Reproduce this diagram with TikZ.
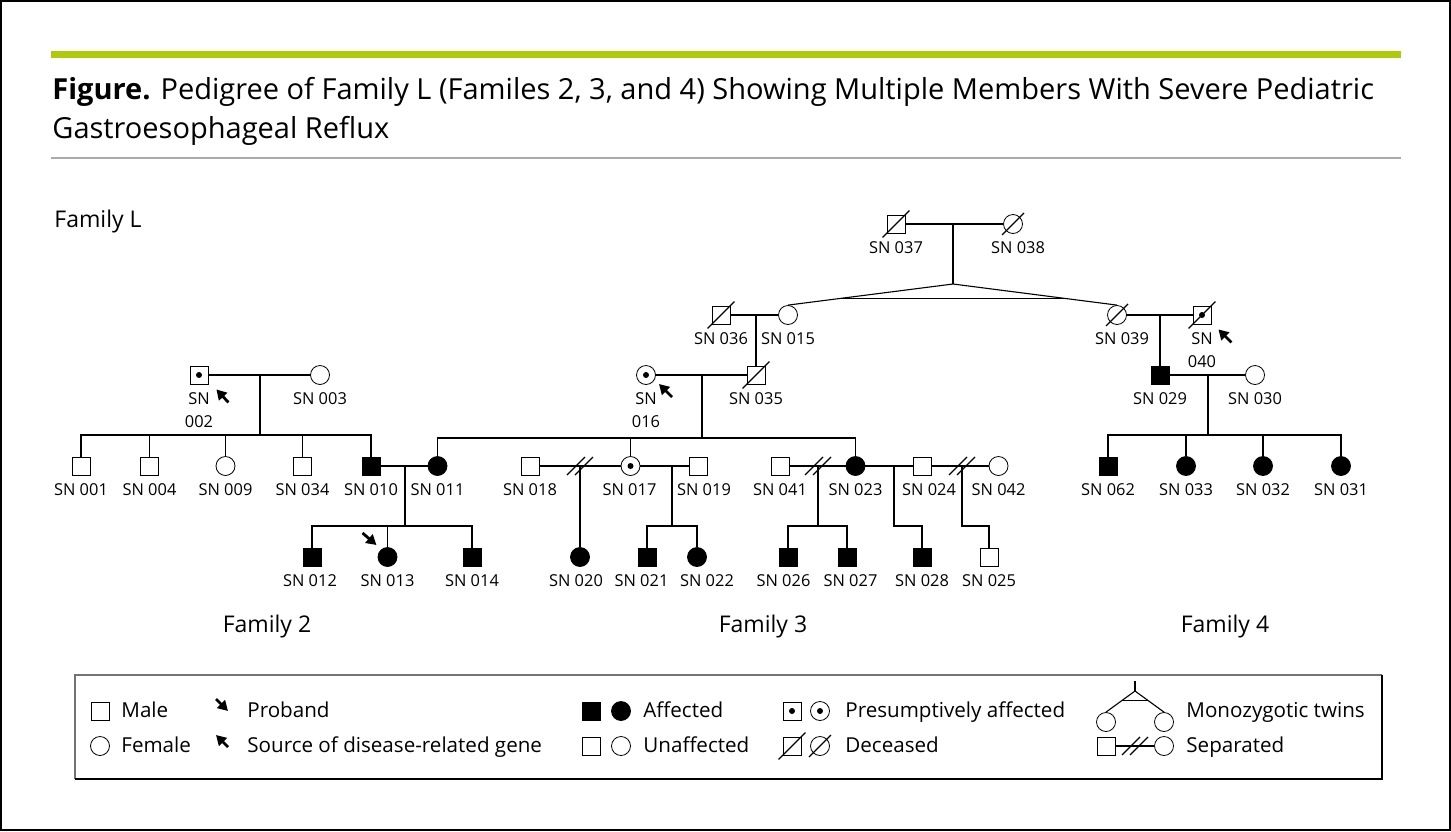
\documentclass[tikz,border=0pt]{standalone}
\usepackage{fontspec}
\setmainfont{Open Sans}
\usetikzlibrary{arrows.meta, calc}
\definecolor{green50}{RGB}{175, 202, 11}
\definecolor{rule50}{RGB}{170, 170, 170}
\tikzset{
  male/.style={rectangle, draw, minimum size=9pt, inner sep=0pt}, % square symbol
  female/.style={circle, draw, minimum size=9.5pt, inner sep=0pt}, % circle symbol
  affected/.style={fill=black},
  presumed/.style={path picture={\fill (path picture bounding box.center) circle (1.5pt);}},
  lbl/.style={font=\fontsize{8.2}{11.5}\selectfont, inner sep=1pt, align=center},
  label distance=2.75pt,
  famlbl/.style={font=\fontsize{11.5}{14}\selectfont, anchor=base, inner sep=0pt},
  legtxt/.style={font=\fontsize{10.3}{12}\selectfont, anchor=base west, inner sep=0pt},
  pointer/.style={-{Triangle[length=5pt,width=5.5pt]}, line width=1.4pt},
  line/.style={draw, line width=0.55pt}
}
\newcommand{\deceased}[1]{\draw[line] ([shift={(-4,4)}]#1.south west) -- ([shift={(4,-4)}]#1.north east);}
\newcommand{\separated}[1]{%
  \draw[line] ([shift={(-13,9)}]#1) -- ([shift={(5,-9)}]#1);
  \draw[line] ([shift={(-5,9)}]#1) -- ([shift={(13,-9)}]#1);}

\begin{document}
\begin{tikzpicture}[x=0.5pt, y=-0.5pt]

  \useasboundingbox (0,0) rectangle (1451,831);
  \draw[line width=1pt] (1,1) rectangle (1450,830);

  % Header
  \fill[green50] (51,51) rectangle (1401,58);
  \node[anchor=base west, inner sep=0pt, font=\fontsize{14.5}{18}\selectfont] (title1) at (52,99)
    {\textbf{Figure.} Pedigree of Family L (Familes 2, 3, and 4) Showing Multiple Members With Severe Pediatric};
  \node[anchor=base west, inner sep=0pt, font=\fontsize{14.5}{18}\selectfont] (title2) at (52,138)
    {Gastroesophageal Reflux};
  \draw[rule50, line width=0.8pt] (51,158) -- (1401,158);

  \node[famlbl, anchor=base west] (famL) at (54,227) {Family L};

  % Generation I
  \node[male, label={[lbl]below:SN 037}] (sn037) at (896,224) {};
  \node[female, label={[lbl, xshift=2.5pt]below:SN 038}] (sn038) at (1013,224) {};
  \deceased{sn037}
  \deceased{sn038}
  \coordinate (m037) at (953,224);
  \coordinate (twin) at (953,284);

  % Generation II
  \node[male, label={[lbl]below:SN 036}] (sn036) at (721,315) {};
  \node[female, label={[lbl]below:SN 015}] (sn015) at (788,315) {};
  \node[female, label={[lbl, xshift=2.5pt]below:SN 039}] (sn039) at (1117,315) {};
  \node[male, presumed, label={[lbl]below:SN\\040}] (sn040) at (1202,315) {};
  \deceased{sn036}
  \deceased{sn039}
  \deceased{sn040}
  \coordinate (m036) at (756,315);
  \coordinate (m039) at (1160,315);

  \node[male, presumed, label={[lbl]below:SN\\002}] (sn002) at (199,375) {};
  \node[female, label={[lbl]below:SN 003}] (sn003) at (320,375) {};
  \node[female, presumed, label={[lbl]below:SN\\016}] (sn016) at (646,375) {};
  \node[male, label={[lbl]below:SN 035}] (sn035) at (756,375) {};
  \deceased{sn035}
  \node[male, affected, label={[lbl]below:SN 029}] (sn029) at (1160,375) {};
  \node[female, label={[lbl]below:SN 030}] (sn030) at (1255,375) {};
  \coordinate (m002) at (260,375);
  \coordinate (m016) at (702,375);
  \coordinate (m029) at (1208,375);
  \coordinate (sib002) at (260,435);
  \coordinate (sib016) at (702,438);
  \coordinate (sib029) at (1208,435);

  % Generation III
  \node[male, label={[lbl]below:SN 001}] (sn001) at (81,466) {};
  \node[male, label={[lbl]below:SN 004}] (sn004) at (149.5,466) {};
  \node[female, label={[lbl]below:SN 009}] (sn009) at (225.5,466) {};
  \node[male, label={[lbl]below:SN 034}] (sn034) at (302.5,466) {};
  \node[male, affected, label={[lbl]below:SN 010}] (sn010) at (371,466) {};
  \node[female, affected, label={[lbl]below:SN 011}] (sn011) at (437.5,466) {};
  \node[male, label={[lbl]below:SN 018}] (sn018) at (530,466) {};
  \node[female, presumed, label={[lbl, xshift=-0.5pt]below:SN 017}] (sn017) at (630.5,466) {};
  \node[male, label={[lbl, xshift=3pt]below:SN 019}] (sn019) at (698,466) {};
  \node[male, label={[lbl]below:SN 041}] (sn041) at (780,466) {};
  \node[female, affected, label={[lbl]below:SN 023}] (sn023) at (855.5,466) {};
  \node[male, label={[lbl, xshift=3.5pt]below:SN 024}] (sn024) at (922,466) {};
  \node[female, label={[lbl]below:SN 042}] (sn042) at (998.5,466) {};
  \node[male, affected, label={[lbl]below:SN 062}] (sn062) at (1108,466) {};
  \node[female, affected, label={[lbl]below:SN 033}] (sn033) at (1186,466) {};
  \node[female, affected, label={[lbl]below:SN 032}] (sn032) at (1263,466) {};
  \node[female, affected, label={[lbl]below:SN 031}] (sn031) at (1341,466) {};
  \coordinate (m010) at (405,466);
  \coordinate (m018) at (580,466);
  \coordinate (m017) at (672,466);
  \coordinate (m041) at (818,466);
  \coordinate (m023) at (894,466);
  \coordinate (m024) at (962,466);
  \coordinate (sib010) at (405,526);
  \coordinate (sib017) at (672,526);
  \coordinate (sib041) at (818,526);
  \coordinate (sib023) at (894,526);
  \coordinate (sib024) at (962,526);

  % Generation IV
  \node[male, affected, label={[lbl, xshift=-1pt]below:SN 012}] (sn012) at (312,557) {};
  \node[female, affected, label={[lbl]below:SN 013}] (sn013) at (387.5,557) {};
  \node[male, affected, label={[lbl]below:SN 014}] (sn014) at (472,557) {};
  \node[female, affected, label={[lbl, xshift=-2pt]below:SN 020}] (sn020) at (580,557) {};
  \node[male, affected, label={[lbl, xshift=-2.75pt]below:SN 021}] (sn021) at (647,557) {};
  \node[female, affected, label={[lbl, xshift=5pt]below:SN 022}] (sn022) at (697,557) {};
  \node[male, affected, label={[lbl, xshift=-2.25pt]below:SN 026}] (sn026) at (788,557) {};
  \node[male, affected, label={[lbl, xshift=1.75pt]below:SN 027}] (sn027) at (847,557) {};
  \node[male, affected, label={[lbl]below:SN 028}] (sn028) at (922,557) {};
  \node[male, label={[lbl]below:SN 025}] (sn025) at (989,557) {};

  \node[famlbl] (fam2) at (267,632) {Family 2};
  \node[famlbl] (fam3) at (763,632) {Family 3};
  \node[famlbl] (fam4) at (1225,632) {Family 4};

  % Lines
  \draw[line] (sn037) -- (sn038);
  \draw[line] (m037) -- (twin);
  \draw[line] (twin) -- (sn015.north);
  \draw[line] (twin) -- (sn039.north);
  \draw[line] ($(twin)!0.68!(sn015.north)$) -- ($(twin)!0.68!(sn039.north)$);

  \draw[line] (sn036) -- (sn015);
  \draw[line] (m036) -- (sn035.north);
  \draw[line] (sn016) -- (sn035);
  \draw[line] (m016) -- (sib016);
  \draw[line] (sn011.north) |- (sn023.north |- sib016) -- (sn023.north);
  \draw[line] (sn017.north) -- (sn017.north |- sib016);

  \draw[line] (sn002) -- (sn003);
  \draw[line] (m002) -- (sib002);
  \draw[line] (sn001.north) |- (sn010.north |- sib002) -- (sn010.north);
  \draw[line] (sn004.north) -- (sn004.north |- sib002);
  \draw[line] (sn009.north) -- (sn009.north |- sib002);
  \draw[line] (sn034.north) -- (sn034.north |- sib002);

  \draw[line] (sn010) -- (sn011);
  \draw[line] (m010) -- (sib010);
  \draw[line] (sn012.north) |- (sn014.north |- sib010) -- (sn014.north);
  \draw[line] (sn013.north) -- (sn013.north |- sib010);

  \draw[line] (sn018) -- (sn017);
  \separated{m018}
  \draw[line] (m018) -- (sn020.north);
  \draw[line] (sn017) -- (sn019);
  \draw[line] (m017) -- (sib017);
  \draw[line] (sn021.north) |- (sn022.north |- sib017) -- (sn022.north);

  \draw[line] (sn041) -- (sn023);
  \separated{m041}
  \draw[line] (m041) -- (sib041);
  \draw[line] (sn026.north) |- (sn027.north |- sib041) -- (sn027.north);
  \draw[line] (sn023) -- (sn024);
  \draw[line] (m023) -- (sib023) -| (sn028.north);
  \draw[line] (sn024) -- (sn042);
  \separated{m024}
  \draw[line] (m024) -- (sib024) -| (sn025.north);

  \draw[line] (sn039) -- (sn040);
  \draw[line] (m039) -- (sn029.north);
  \draw[line] (sn029) -- (sn030);
  \draw[line] (m029) -- (sib029);
  \draw[line] (sn062.north) |- (sn031.north |- sib029) -- (sn031.north);
  \draw[line] (sn033.north) -- (sn033.north |- sib029);
  \draw[line] (sn032.north) -- (sn032.north |- sib029);

  % Proband and source markers
  \draw[pointer] ([shift={(20,18)}]sn002.south east) -- ([shift={(8,5)}]sn002.south east);
  \draw[pointer] ([shift={(19,15)}]sn016.south east) -- ([shift={(6,2)}]sn016.south east);
  \draw[pointer] ([shift={(20,18)}]sn040.south east) -- ([shift={(7,5)}]sn040.south east);
  \draw[pointer] ([shift={(-18,-17)}]sn013.north west) -- ([shift={(-4,-5)}]sn013.north west);

  % Legend
  \draw[black!55, line width=0.6pt] (75,779) -- (75,675) -- (1382,675);
  \draw[line width=0.6pt] (75,779) -- (1382,779) -- (1382,675);

  \node[male] (legmale) at (100,711) {};
  \node[legtxt] (legmaletxt) at (121,717) {Male};
  \node[female] (legfemale) at (100,746) {};
  \node[legtxt] (legfemaletxt) at (121,752) {Female};

  \coordinate (legprob) at (222,705);
  \coordinate (legsrc) at (222,741);
  \draw[pointer] ([shift={(-6,-6)}]legprob) -- ([shift={(6,6)}]legprob);
  \draw[pointer] ([shift={(6,6)}]legsrc) -- ([shift={(-6,-6)}]legsrc);
  \node[legtxt] (legprobtxt) at (247,717) {Proband};
  \node[legtxt] (legsrctxt) at (247,752) {Source of disease-related gene};

  \node[male, affected] (legaffm) at (591,711) {};
  \node[female, affected] (legafff) at (621,711) {};
  \node[legtxt] (legafftxt) at (643,717) {Affected};
  \node[male] (legunm) at (591,746) {};
  \node[female] (legunf) at (621,746) {};
  \node[legtxt] (leguntxt) at (643,752) {Unaffected};

  \node[male, presumed] (legprem) at (792,711) {};
  \node[female, presumed] (legpref) at (820,711) {};
  \node[legtxt] (legpretxt) at (845,717) {Presumptively affected};
  \node[male] (legdecm) at (792,746) {};
  \node[female] (legdecf) at (820,746) {};
  \deceased{legdecm}
  \deceased{legdecf}
  \node[legtxt] (legdectxt) at (845,752) {Deceased};

  \coordinate (legtwin) at (1135,691);
  \coordinate (legtwintop) at (1135,681);
  \node[female] (legtwina) at (1106,722) {};
  \node[female] (legtwinb) at (1164,722) {};
  \draw[line] (legtwintop) -- (legtwin);
  \draw[line] (legtwin) -- (legtwina.north);
  \draw[line] (legtwin) -- (legtwinb.north);
  \draw[line] ($(legtwin)!0.45!(legtwina.north)$) -- ($(legtwin)!0.45!(legtwinb.north)$);
  \node[legtxt] (legtwintxt) at (1186,717) {Monozygotic twins};

  \node[male] (legsepm) at (1106,746) {};
  \node[female] (legsepf) at (1164,746) {};
  \coordinate (legsep) at (1135,746);
  \draw[line] (legsepm) -- (legsepf);
  \separated{legsep}
  \node[legtxt] (legseptxt) at (1186,752) {Separated};

\end{tikzpicture}
\end{document}
